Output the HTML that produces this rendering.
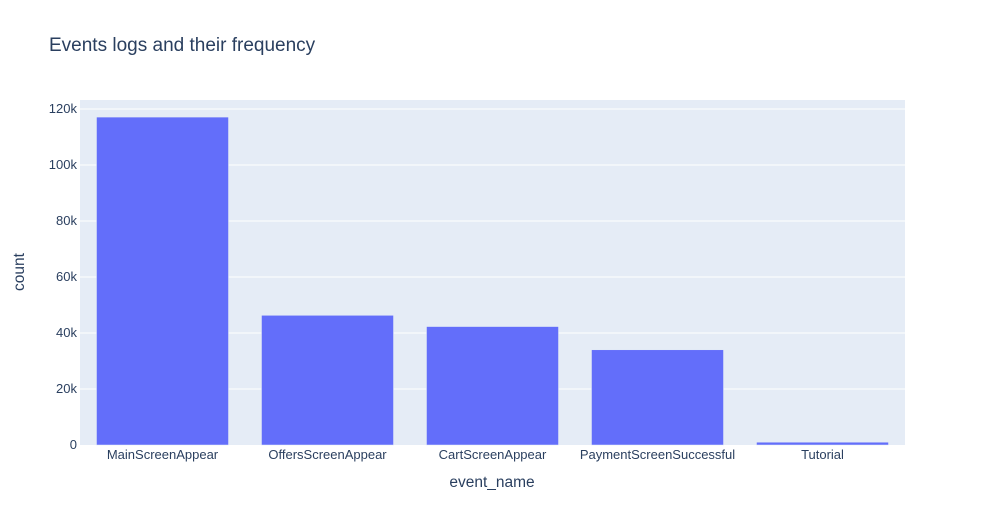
<!DOCTYPE html>
<html><head><style>
body{margin:0;background:#fff;font-family:"Liberation Sans",sans-serif}
svg text{font-family:"Liberation Sans",sans-serif;fill:#2a3f5f}
</style></head><body>
<svg width="985" height="525" id="c">
<rect width="985" height="525" fill="#fff"/>
<text x="49" y="51" font-size="19">Events logs and their frequency</text>
<rect x="80" y="100" width="825" height="345" fill="#e5ecf6"/>
<g id="grid"></g><g id="bars"></g><g id="ticks"></g>
<text x="492" y="487" font-size="15.5" text-anchor="middle">event_name</text>
<text x="24" y="272" font-size="15.5" text-anchor="middle" transform="rotate(-90 24 272)">count</text>
</svg>
<script>
const categories=["MainScreenAppear","OffersScreenAppear","CartScreenAppear","PaymentScreenSuccessful","Tutorial"];
const counts=[117100,46300,42300,34000,1000];
const yTicks=[0,20000,40000,60000,80000,100000,120000];
const yTickLabels=["0","20k","40k","60k","80k","100k","120k"];
const NS="http://www.w3.org/2000/svg";
const L=80,R=905,T=100,B=445,yMax=123200;
function y(v){return B-(v/yMax)*(B-T);}
const band=(R-L)/categories.length;
function x(i){return L+band*i+band/2;}
function mk(t,a,p){const e=document.createElementNS(NS,t);for(const k in a)e.setAttribute(k,a[k]);document.getElementById(p).appendChild(e);return e;}
yTicks.forEach((v,i)=>{
 if(v>0){const g=mk('line',{x1:L,x2:R,y1:y(v),y2:y(v),stroke:'#fff','stroke-width':1},'grid');
 
 }
 const t=mk('text',{x:L-3,y:y(v)+4,'font-size':13,'text-anchor':'end'},'ticks');t.textContent=yTickLabels[i];
 
 
});
categories.forEach((c,i)=>{
 const w=band*0.8;
 const r=mk('rect',{x:x(i)-w/2,y:y(counts[i]),width:w,height:B-y(counts[i]),fill:'#636efa',stroke:'#e5ecf6','stroke-width':0.5},'bars');
 
 
 const t=mk('text',{x:x(i),y:B+14,'font-size':13,'text-anchor':'middle'},'ticks');t.textContent=c;
 
 
});
</script>
</body></html>
